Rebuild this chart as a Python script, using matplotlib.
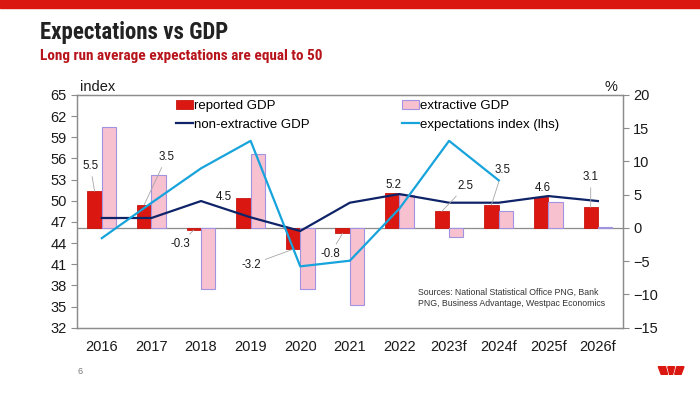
#!/usr/bin/env python3
#coding: utf-8

import numpy as np
import matplotlib
matplotlib.use("Agg")
import matplotlib.pyplot as plt
from matplotlib.patches import Rectangle, Polygon

years = ["2016", "2017", "2018", "2019", "2020", "2021", "2022",
         "2023f", "2024f", "2025f", "2026f"]
reported_gdp = [5.5, 3.5, -0.3, 4.5, -3.2, -0.8, 5.2, 2.5, 3.5, 4.6, 3.1]
extractive_gdp = [15.2, 8.0, -9.2, 11.2, -9.2, -11.6, 5.0, -1.4, 2.5, 3.9, 0.1]
non_extractive_gdp = [1.5, 1.5, 4.05, 1.6, -0.45, 3.8, 5.1, 3.8, 3.8, 4.8, 4.05]
expectations = [44.7, 49.7, 54.6, 58.5, 40.7, 41.5, 48.9, 58.5, 52.9,
                np.nan, np.nan]

# label offsets (points) for the reported GDP values, flag = leader line
label_offsets = [(-3, 18, True), (16, 34, True), (-10, -10, True),
                 (-14, 1, False), (-30, -11, True), (-9, -15, True),
                 (1, 6, False), (17, 18, True), (8, 25, True),
                 (1, 6.5, False), (0, 21.5, True)]

RED = "#DA1710"
PINK = "#F8C1D0"
LAVENDER = "#A293E0"
NAVY = "#0F2468"
CYAN = "#17A3DB"
GREY = "#8C8C8C"
TXT = "#1A1A1A"

plt.rcParams['font.family'] = ['Liberation Sans', 'DejaVu Sans']

W, H = 700, 393
fig = plt.figure(figsize=(7, 3.93), dpi=100)


def fx(px):
	return px / W


def fy(py):
	return 1 - py / H


# top banner
fig.patches.append(Rectangle((0, fy(7.5)), 1, 7.5 / H, transform=fig.transFigure,
                             color=RED, zorder=0))

title_font = ['Roboto Condensed', 'Roboto']
fig.text(fx(40), fy(32), "Expectations vs GDP", family=title_font, weight='bold',
         fontsize=16.5, color="#222222", va='center', ha='left')
fig.text(fx(40), fy(56), "Long run average expectations are equal to 50",
         family=title_font, weight='bold', fontsize=11, color="#B8141C",
         va='center', ha='left')

ax2 = fig.add_axes([fx(77), fy(327.7), fx(622.7) - fx(77), fy(95) - fy(327.7)])
ax = ax2.twinx()
ax.yaxis.tick_left()
ax.set_zorder(ax2.get_zorder() + 1)
ax.patch.set_visible(False)

x = np.arange(len(years))
bw = 0.29
b1 = ax2.bar(x - bw / 2, reported_gdp, bw, color=RED, edgecolor="#C8150F",
             linewidth=0.6, label="reported GDP", zorder=2)
b2 = ax2.bar(x + bw / 2, extractive_gdp, bw, color=PINK, edgecolor=LAVENDER,
             linewidth=0.8, label="extractive GDP", zorder=2)
ax2.axhline(0, color=GREY, lw=0.9, zorder=1)
l1, = ax2.plot(x, non_extractive_gdp, color=NAVY, lw=1.6,
               label="non-extractive GDP", zorder=3)
l2, = ax.plot(x, expectations, color=CYAN, lw=1.6,
              label="expectations index (lhs)", zorder=4)

for i, v in enumerate(reported_gdp):
	dx, dy, lead = label_offsets[i]
	props = dict(arrowstyle='-', color="#A6A6A6", lw=0.6, shrinkA=1, shrinkB=0) if lead else None
	ax2.annotate("%.1f" % v, xy=(x[i] - bw / 2, v), xytext=(dx, dy),
	             textcoords='offset points', ha='center', va='center',
	             fontsize=8.3, color=TXT, arrowprops=props, zorder=5)

ax2.set_xlim(-0.5, len(years) - 0.5)
ax2.set_ylim(-15, 20)
ax2.set_yticks(np.arange(-15, 21, 5))
ax.set_ylim(32, 65)
ax.set_yticks(np.arange(32, 66, 3))
ax2.set_xticks(x)
ax2.set_xticklabels(years)

ax2.yaxis.tick_right()
for a in (ax, ax2):
	for s in a.spines.values():
		s.set_color(GREY)
		s.set_linewidth(0.9)
	a.tick_params(colors=GREY, labelcolor=TXT, labelsize=10.5, length=4, width=0.8)
ax2.tick_params(axis='x', length=0, pad=9, labelsize=10.5)

fig.text(fx(80), fy(87), "index", fontsize=10.5, color=TXT, ha='left', va='center')
fig.text(fx(611), fy(87), "%", fontsize=10.5, color=TXT, ha='center', va='center')

ax.legend([b1, l1, b2, l2],
          ["reported GDP", "non-extractive GDP", "extractive GDP",
           "expectations index (lhs)"],
          ncol=2, loc='upper left', bbox_to_anchor=(fx(176), fy(100)),
          bbox_transform=fig.transFigure, frameon=False, fontsize=9.5,
          handlelength=1.3, handletextpad=0.05, columnspacing=7.0,
          labelspacing=0.5, borderpad=0, borderaxespad=0)

fig.text(fx(418), fy(298), "Sources: National Statistical Office PNG, Bank\n"
         "PNG, Business Advantage, Westpac Economics", fontsize=6.3,
         color="#333333", ha='left', va='center', linespacing=1.3)
fig.text(fx(80), fy(372), "6", fontsize=6.5, color="#777777", ha='center', va='center')

# logo
logo = [
	[(658.3, 366.7), (665.5, 366.7), (667.6, 374.3), (661.2, 374.3)],
	[(667.8, 366.7), (674.6, 366.7), (672.6, 374.3), (669.6, 374.3)],
	[(676.8, 366.7), (684.0, 366.7), (681.1, 374.3), (674.7, 374.3)],
]
for pts in logo:
	fig.patches.append(Polygon([(fx(a), fy(b)) for a, b in pts], closed=True,
	                           transform=fig.transFigure, color=RED))

fig.savefig("out.png", dpi=100)
